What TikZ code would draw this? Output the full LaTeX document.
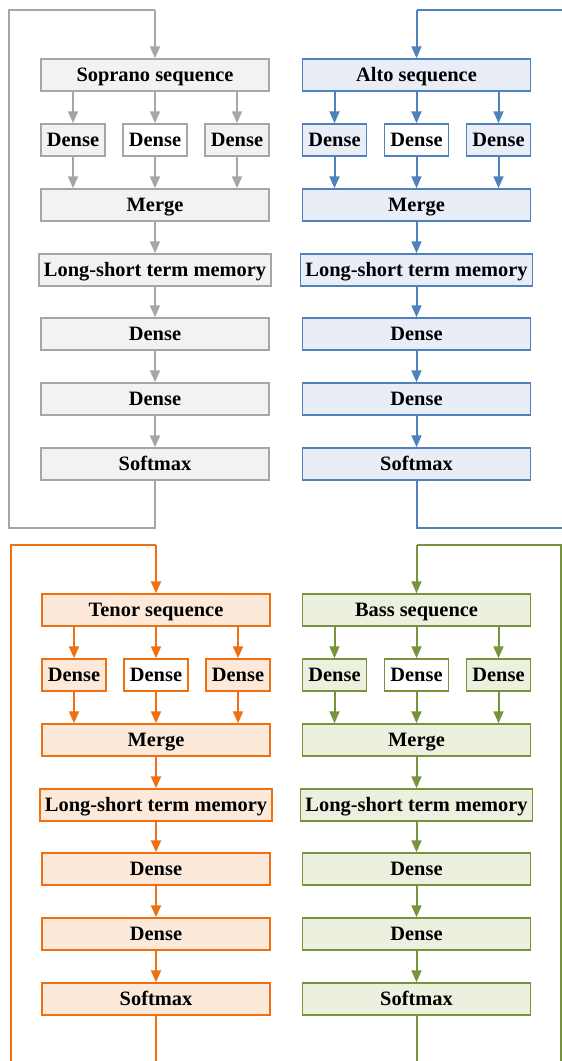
\documentclass[tikz,border=0pt]{standalone}
\usepackage{fontspec}
\setmainfont{Liberation Serif}
\usetikzlibrary{arrows.meta}

\definecolor{grayline}{HTML}{A6A6A6}
\definecolor{grayfill}{HTML}{F2F2F2}
\definecolor{blueline}{HTML}{4F81BD}
\definecolor{bluefill}{HTML}{E9EEF6}
\definecolor{orangeline}{HTML}{EE7010}
\definecolor{orangefill}{HTML}{FDE9D9}
\definecolor{greenline}{HTML}{77933C}
\definecolor{greenfill}{HTML}{EBF1DE}

\tikzset{
  layer/.style={draw=#1line, fill=#1fill, line width=1.5pt, inner sep=0pt,
    minimum width=228pt, minimum height=32pt,
    text height=13.5pt, text depth=0pt,
    font=\fontsize{20.4}{24}\selectfont\bfseries},
  widelayer/.style={layer=#1, minimum width=232pt},
  smalllayer/.style={layer=#1, minimum width=64pt},
  openlayer/.style={smalllayer=#1, fill=white},
  flow/.style={draw=#1line, line width=2pt,
    -{Triangle[width=10pt,length=12pt]}},
  loopline/.style={draw=#1line, line width=2pt},
}

% One voice column: input, three parallel dense layers, merge, LSTM, two dense, softmax
\newcommand{\voicecolumn}[5]{%
  % #1 prefix, #2 colour, #3 centre x, #4 top y, #5 title
  \node[layer=#2] (#1in) at (#3,#4) {#5};
  \node[smalllayer=#2] (#1da) at (#3-82,#4+65) {Dense};
  \node[openlayer=#2] (#1db) at (#3,#4+65) {Dense};
  \node[smalllayer=#2] (#1dc) at (#3+82,#4+65) {Dense};
  \node[layer=#2] (#1mg) at (#3,#4+130) {Merge};
  \node[widelayer=#2] (#1ls) at (#3,#4+195) {Long-short term memory};
  \node[layer=#2] (#1de) at (#3,#4+259) {Dense};
  \node[layer=#2] (#1df) at (#3,#4+324) {Dense};
  \node[layer=#2] (#1sm) at (#3,#4+389) {Softmax};
  \draw[flow=#2] (#1in.south -| #1da) -- (#1da);
  \draw[flow=#2] (#1in) -- (#1db);
  \draw[flow=#2] (#1in.south -| #1dc) -- (#1dc);
  \draw[flow=#2] (#1da) -- (#1mg.north -| #1da);
  \draw[flow=#2] (#1db) -- (#1mg);
  \draw[flow=#2] (#1dc) -- (#1mg.north -| #1dc);
  \draw[flow=#2] (#1mg) -- (#1ls);
  \draw[flow=#2] (#1ls) -- (#1de);
  \draw[flow=#2] (#1de) -- (#1df);
  \draw[flow=#2] (#1df) -- (#1sm);
}

\begin{document}
\begin{tikzpicture}[x=1pt,y=-1pt]
  \clip (0,0) rectangle (562,1061);
  \useasboundingbox (0,0) rectangle (562,1061);

  \voicecolumn{s}{gray}{155}{75}{Soprano sequence}
  \voicecolumn{a}{blue}{416.5}{75}{Alto sequence}
  \voicecolumn{t}{orange}{156}{610}{Tenor sequence}
  \voicecolumn{b}{green}{416.5}{610}{Bass sequence}

  % feedback loops from softmax output back to the input sequence
  \coordinate (sTop) at (155,10);
  \coordinate (sLeftTop) at (9,10);
  \coordinate (sLeftBot) at (9,528);
  \coordinate (sBot) at (155,528);
  \draw[loopline=gray] (ssm) -- (sBot) -- (sLeftBot) -- (sLeftTop) -- (sTop);
  \draw[flow=gray] (sTop) -- (sin);

  \coordinate (aTop) at (416.5,10);
  \coordinate (aRightTop) at (566,10);
  \coordinate (aRightBot) at (566,528);
  \coordinate (aBot) at (416.5,528);
  \draw[loopline=blue] (asm) -- (aBot) -- (aRightBot) -- (aRightTop) -- (aTop);
  \draw[flow=blue] (aTop) -- (ain);

  \coordinate (tTop) at (156,545);
  \coordinate (tLeftTop) at (11,545);
  \coordinate (tLeftBot) at (11,1070);
  \coordinate (tBot) at (156,1070);
  \draw[loopline=orange] (tsm) -- (tBot) -- (tLeftBot) -- (tLeftTop) -- (tTop);
  \draw[flow=orange] (tTop) -- (tin);

  \coordinate (bTop) at (416.5,545);
  \coordinate (bRightTop) at (560.5,545);
  \coordinate (bRightBot) at (560.5,1070);
  \coordinate (bBot) at (416.5,1070);
  \draw[loopline=green] (bsm) -- (bBot) -- (bRightBot) -- (bRightTop) -- (bTop);
  \draw[flow=green] (bTop) -- (bin);
\end{tikzpicture}
\end{document}
